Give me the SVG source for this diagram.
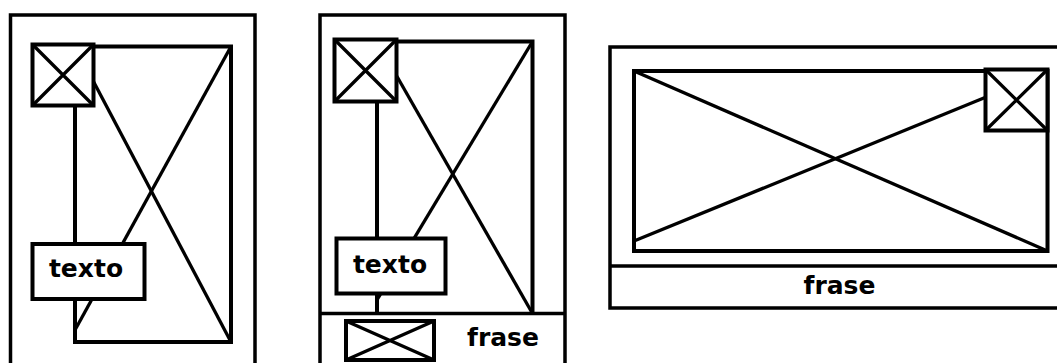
<svg xmlns="http://www.w3.org/2000/svg" width="1057" height="363" viewBox="0 0 1057 363">
<style>
.fr{fill:none;stroke:#000;stroke-width:3.5}
.im{fill:none;stroke:#000;stroke-width:4}
.sq{fill:#fff;stroke:#000;stroke-width:4}
.dg{stroke:#000;stroke-width:3.3;fill:none}
.tb{fill:#fff;stroke:#000;stroke-width:4}
.t{font-family:"DejaVu Sans",sans-serif;font-weight:bold;font-size:25px;fill:#000;text-anchor:middle}
</style>
<rect width="1057" height="363" fill="#fff"/>
<g id="wire1">
  <path class="fr" d="M10.5 370V15H255V370"/>
  <rect class="im" x="75" y="46.5" width="156" height="295.5"/>
  <line class="dg" x1="75" y1="46.5" x2="231" y2="342"/>
  <line class="dg" x1="231" y1="46.5" x2="75" y2="330"/>
  <g id="wire1-thumb">
    <rect class="sq" x="32.5" y="44.5" width="61" height="61"/>
    <path class="dg" d="M32.5 44.5L93.5 105.5M93.5 44.5L32.5 105.5" stroke-width="2.8"/>
  </g>
  <g id="wire1-text">
    <rect class="tb" x="32.5" y="244" width="112" height="55"/>
    <text class="t" x="86" y="277">texto</text>
  </g>
</g>
<g id="wire2">
  <path class="fr" d="M320 370V15H565V370"/>
  <line class="fr" x1="320" y1="313.5" x2="565" y2="313.5"/>
  <path class="im" d="M377 313.5V41.5H532.5V313.5"/>
  <line class="dg" x1="377" y1="41.5" x2="532.5" y2="313.5"/>
  <line class="dg" x1="532.5" y1="41.5" x2="377" y2="300"/>
  <g id="wire2-thumb">
    <rect class="sq" x="334.5" y="39.5" width="62" height="62"/>
    <path class="dg" d="M334.5 39.5L396.5 101.5M396.5 39.5L334.5 101.5" stroke-width="2.8"/>
  </g>
  <g id="wire2-text">
    <rect class="tb" x="336.5" y="238.5" width="109" height="55"/>
    <text class="t" x="390" y="273">texto</text>
  </g>
  <g id="wire2-footer">
    <rect class="sq" x="346" y="321" width="88" height="39"/>
    <path class="dg" d="M346 321L434 360M434 321L346 360"/>
    <text class="t" x="503" y="346">frase</text>
  </g>
</g>
<g id="wire3">
  <path class="fr" d="M1062 47H610V308H1062"/>
  <line class="fr" x1="610" y1="266" x2="1062" y2="266"/>
  <rect class="im" x="634" y="71" width="413.5" height="180"/>
  <line class="dg" x1="634" y1="71" x2="1047.5" y2="251"/>
  <line class="dg" x1="634" y1="241" x2="1047.5" y2="72"/>
  <g id="wire3-thumb">
    <rect class="sq" x="985.5" y="69.5" width="62" height="61"/>
    <path class="dg" d="M985.5 69.5L1047.5 130.5M1047.5 69.5L985.5 130.5" stroke-width="2.8"/>
  </g>
  <text class="t" x="839.5" y="294">frase</text>
</g>
<g id="connectors"></g>
</svg>
